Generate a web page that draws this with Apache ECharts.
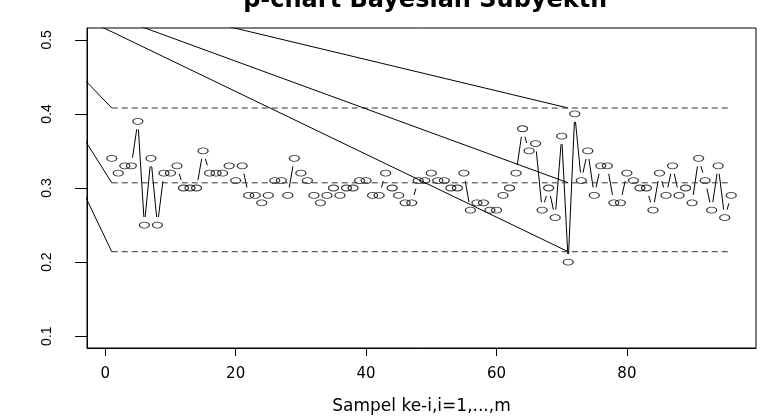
<!DOCTYPE html>
<html><head><meta charset="utf-8">
<script src="https://cdn.jsdelivr.net/npm/echarts@6/dist/echarts.min.js"></script>
<style>html,body{margin:0;padding:0;background:#fff}#c{width:762px;height:420px}</style>
</head><body><div id="c"></div>
<script>
// ---- data ----
const sampleIndex = [1,2,3,4,5,6,7,8,9,10,11,12,13,14,15,16,17,18,19,20,21,22,23,24,25,26,27,28,29,30,31,32,33,34,35,36,37,38,39,40,41,42,43,44,45,46,47,48,49,50,51,52,53,54,55,56,57,58,59,60,61,62,63,64,65,66,67,68,69,70,71,72,73,74,75,76,77,78,79,80,81,82,83,84,85,86,87,88,89,90,91,92,93,94,95,96];
const proportions = [0.34,0.32,0.33,0.33,0.39,0.25,0.34,0.25,0.32,0.32,
  0.33,0.30,0.30,0.30,0.35,0.32,0.32,0.32,0.33,0.31,
  0.33,0.29,0.29,0.28,0.29,0.31,0.31,0.29,0.34,0.32,
  0.31,0.29,0.28,0.29,0.30,0.29,0.30,0.30,0.31,0.31,
  0.29,0.29,0.32,0.30,0.29,0.28,0.28,0.31,0.31,0.32,
  0.31,0.31,0.30,0.30,0.32,0.27,0.28,0.28,0.27,0.27,
  0.29,0.30,0.32,0.38,0.35,0.36,0.27,0.30,0.26,0.37,
  0.20,0.40,0.31,0.35,0.29,0.33,0.33,0.28,0.28,0.32,
  0.31,0.30,0.30,0.27,0.32,0.29,0.33,0.29,0.30,0.28,
  0.34,0.31,0.27,0.33,0.26,0.29];
const limitNames = ['UCL','CL','LCL'];
const limitValues = [0.408, 0.307, 0.214];
const priorPoint = [-20, 0.6];      // common origin of the solid lines
const firstSample = 1, changeSample = 71, lastSample = 96;
const xTicks = [0,20,40,60,80];
const yTicks = [0.1,0.2,0.3,0.4,0.5];

// ---- chart ----
const chart = echarts.init(document.getElementById('c'), null, {renderer:'canvas'});
const STRETCH = 1.8, GAP = 8;
const points = sampleIndex.map((x,i)=>[x, proportions[i]]);
const segData = sampleIndex.slice(1).map((x,i)=>[sampleIndex[i], proportions[i], x, proportions[i+1]]);

const series = [];
limitValues.forEach((v,k)=>{
  series.push({name:limitNames[k]+' prior', type:'line', data:[priorPoint,[firstSample,v]],
    symbol:'none', silent:true, clip:true, lineStyle:{color:'#000', width:1}});
  series.push({name:limitNames[k]+' path', type:'line', data:[priorPoint,[changeSample,v]],
    symbol:'none', silent:true, clip:true, lineStyle:{color:'#000', width:1}});
  series.push({name:limitNames[k], type:'line', data:[[firstSample,v],[lastSample,v]],
    symbol:'none', silent:true, clip:true, lineStyle:{color:'#333', width:1, type:[6,4]}});
});
series.push({
  type:'custom', data:segData, silent:true, clip:true,
  renderItem:function(params, api){
    const p0 = api.coord([api.value(0), api.value(1)]);
    const p1 = api.coord([api.value(2), api.value(3)]);
    const dx = (p1[0]-p0[0])/STRETCH, dy = p1[1]-p0[1];
    const f = Math.hypot(dx, dy);
    if (f <= 2*GAP) return null;
    const t = GAP/f;
    return {type:'line', shape:{
      x1:p0[0]+t*(p1[0]-p0[0]), y1:p0[1]+t*(p1[1]-p0[1]),
      x2:p1[0]-t*(p1[0]-p0[0]), y2:p1[1]-t*(p1[1]-p0[1])},
      style:{stroke:'#000', lineWidth:1}};
  }
});
series.push({type:'scatter', data:points, silent:true,
  symbol:'path://M0,10 A10,10 0 1,1 20,10 A10,10 0 1,1 0,10 Z',
  symbolSize:[10,6], itemStyle:{color:'rgba(0,0,0,0)', borderColor:'#000', borderWidth:1}});

chart.setOption({
  animation:false,
  title:{text:'p-chart Bayesian Subyektif', left:421, top:-16, textAlign:'center',
    textStyle:{fontFamily:'DejaVu Sans', fontWeight:'bold', fontSize:24, color:'#000'}},
  grid:{left:87, right:6, top:28, bottom:68, show:true, borderColor:'#000', borderWidth:1, backgroundColor:'transparent'},
  xAxis:{type:'value', min:-2.8, max:99.8,
    axisLine:{show:true, onZero:false, lineStyle:{color:'#000', width:1}}, splitLine:{show:false},
    axisTick:{show:true, inside:false, customValues:xTicks, length:8, lineStyle:{color:'#000', width:1}},
    axisLabel:{customValues:xTicks, fontFamily:'DejaVu Sans', fontSize:15, color:'#000', margin:19},
    name:'Sampel ke-i,i=1,...,m', nameLocation:'middle', nameGap:50,
    nameTextStyle:{fontFamily:'DejaVu Sans', fontSize:17, color:'#000'}},
  yAxis:{type:'value', min:0.084, max:0.516,
    axisLine:{show:true, onZero:false, lineStyle:{color:'#000', width:1}}, splitLine:{show:false},
    axisTick:{show:true, inside:false, customValues:yTicks, length:12, lineStyle:{color:'#000', width:1}},
    axisLabel:{customValues:yTicks, rotate:90, fontFamily:'Liberation Sans', fontSize:14, color:'#000', margin:33,
      formatter:v=>v.toFixed(1)}},
  series:series
});
</script></body></html>
